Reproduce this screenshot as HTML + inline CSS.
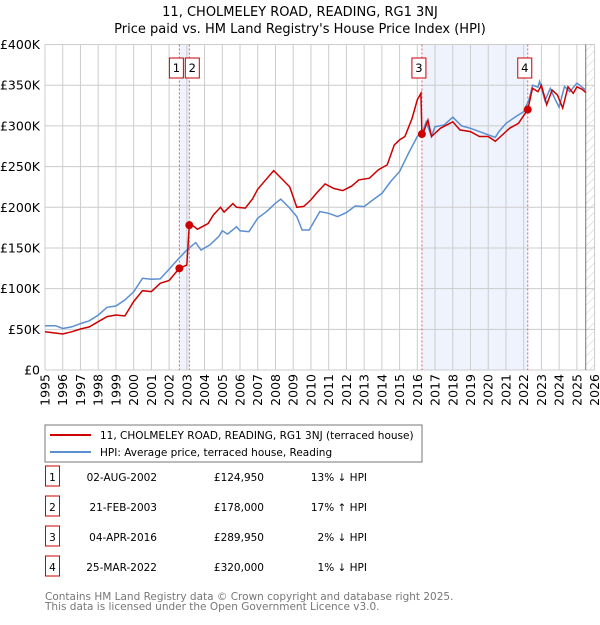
<!DOCTYPE html>
<html><head><meta charset="utf-8"><style>
body{margin:0;background:#fff;font-family:"Liberation Sans","DejaVu Sans",sans-serif;}
svg text{font-family:"DejaVu Sans","Liberation Sans",sans-serif;}
</style></head><body>
<svg id="c" width="600" height="620" xmlns="http://www.w3.org/2000/svg">
<defs><pattern id="h" width="6" height="6" patternUnits="userSpaceOnUse" patternTransform="rotate(45)"><line x1="0" y1="0" x2="0" y2="6" stroke="#ccc" stroke-width="1"/></pattern></defs>
<text x="300" y="16" text-anchor="middle" font-size="13">11, CHOLMELEY ROAD, READING, RG1 3NJ</text>
<text x="300" y="33" text-anchor="middle" font-size="13">Price paid vs. HM Land Registry's House Price Index (HPI)</text>
<g id="plot"></g>
<rect x="45" y="425" width="377" height="37" fill="#fff" stroke="#777"/>
<line x1="50" y1="435" x2="91" y2="435" stroke="#cc0000" stroke-width="2"/>
<text x="100" y="439" font-size="10.5">11, CHOLMELEY ROAD, READING, RG1 3NJ (terraced house)</text>
<line x1="50" y1="452" x2="91" y2="452" stroke="#5b8fd0" stroke-width="2"/>
<text x="100" y="456" font-size="10.5">HPI: Average price, terraced house, Reading</text>
<g id="table" font-size="10.5"></g>
<text x="45" y="600" font-size="10.5" fill="#777">Contains HM Land Registry data © Crown copyright and database right 2025.</text>
<text x="45" y="610" font-size="10.5" fill="#777">This data is licensed under the Open Government Licence v3.0.</text>
</svg>
<script>
const hpiYears=[1995,1995.6,1996,1996.5,1997,1997.5,1998,1998.5,1999,1999.5,2000,2000.5,2001,2001.5,2002,2002.5,2003,2003.5,2003.8,2004.3,2004.8,2005,2005.3,2005.8,2006,2006.5,2007,2007.5,2008,2008.3,2008.8,2009.2,2009.5,2009.9,2010.5,2011,2011.5,2012,2012.5,2013,2013.5,2014,2014.5,2015,2015.5,2016,2016.3,2016.5,2016.8,2017,2017.5,2018,2018.5,2019,2019.5,2020,2020.4,2020.6,2021,2021.5,2022,2022.3,2022.5,2022.8,2022.9,2023.2,2023.5,2023.7,2024,2024.3,2024.6,2025,2025.3,2025.5];
const hpiValues=[54.5,54.5,51,53,57,60.5,67.5,77,78.7,86,96,112.7,111.5,112,123.8,136,147.5,156.5,147.5,153.7,164,171,167,176,171,170,186.5,194.7,205,210,199,188.5,172,172,194.7,192.6,188.5,193.4,201.6,200.8,209,217,231.6,243.9,266,287,293,305,287,299,301,310.7,300,297,293,289,286,293,303,310.7,317.6,332,350,347.5,354.5,331,346,336,323,348.4,342,352.5,347.5,344];
const priceYears=[1995,1996,1996.5,1997,1997.5,1998,1998.5,1999,1999.5,2000,2000.5,2001,2001.5,2002,2002.58,2003,2003.14,2003.3,2003.6,2004.2,2004.5,2004.9,2005.1,2005.6,2005.8,2006.3,2006.7,2007,2007.5,2007.9,2008.4,2008.8,2009.2,2009.6,2010,2010.3,2010.8,2011.3,2011.8,2012.3,2012.7,2013.3,2013.8,2014.3,2014.7,2015,2015.3,2015.7,2016,2016.2,2016.26,2016.4,2016.6,2016.8,2017.3,2018,2018.4,2019,2019.5,2020,2020.4,2020.7,2021.2,2021.7,2022.23,2022.5,2022.8,2023,2023.3,2023.6,2023.9,2024.2,2024.5,2024.8,2025,2025.3,2025.5];
const priceValues=[47,44.3,47,50.4,53,59.4,65.6,67.6,66.4,84,97.5,96.3,106.6,110,124.95,129,178,178,173,180,190.5,200,194,204.5,200,199,210,222,235,245,234,225,200,201,209,217,228.7,223,220.5,226,233.6,235.7,246,252,276.6,282.8,287,309,332,340,289.95,295,307,287,297,305,295,293,287,287,281,287,297,303,320,346.3,342,350,326,344,338,322,348,340,348,345,341];
const saleLabels=["1","2","3","4"];
const saleYears=[2002.58,2003.14,2016.26,2022.23];
const saleValues=[124.95,178,289.95,320];
const saleDates=["02-AUG-2002","21-FEB-2003","04-APR-2016","25-MAR-2022"];
const salePrices=["£124,950","£178,000","£289,950","£320,000"];
const saleHpi=["13% ↓ HPI","17% ↑ HPI","2% ↓ HPI","1% ↓ HPI"];
const yTicks=[0,50,100,150,200,250,300,350,400];
const yTickLabels=["£0","£50K","£100K","£150K","£200K","£250K","£300K","£350K","£400K"];
const xTicks=[];for(let y=1995;y<=2026;y++)xTicks.push(y);
const dataEnd=2025.5;

const NS="http://www.w3.org/2000/svg";
const X0=45,X1=594.6,Y0=370,Y1=44.5;
const xs=y=>X0+(y-1995)/31*(X1-X0);
const ys=v=>Y0-v/400*(Y0-Y1);
const plot=document.getElementById('plot');
function mk(t,a,p){const e=document.createElementNS(NS,t);for(const k in a)e.setAttribute(k,a[k]);(p||plot).appendChild(e);return e;}
for(let i=0;i<4;i+=2){
 const r=mk('rect',{x:xs(saleYears[i]),y:Y1,width:xs(saleYears[i+1])-xs(saleYears[i]),height:Y0-Y1,fill:'#eef3fd'});
 
 
}
const hz=mk('rect',{x:xs(dataEnd),y:Y1,width:X1-xs(dataEnd),height:Y0-Y1,fill:'url(#h)'});


yTicks.forEach((v,i)=>{
 const l=mk('line',{x1:X0,x2:X1,y1:ys(v),y2:ys(v),stroke:'#cccccc'});
 
 
 const t=mk('text',{x:40,y:ys(v)+4.5,'text-anchor':'end','font-size':'12.5'});
 t.textContent=yTickLabels[i];
 
 
});
xTicks.forEach(y=>{
 const l=mk('line',{x1:xs(y),x2:xs(y),y1:Y1,y2:Y0,stroke:'#cccccc'});
 
 
 const t=mk('text',{x:0,y:0,'font-size':'12.5','text-anchor':'end',transform:`translate(${xs(y)+4.5},374) rotate(-90)`});
 t.textContent=y;
 
 
});
const el=mk('line',{x1:xs(dataEnd),x2:xs(dataEnd),y1:Y1,y2:Y0,stroke:'#777'});


saleYears.forEach(y=>{
 const l=mk('line',{x1:xs(y),x2:xs(y),y1:Y1,y2:Y0,stroke:'#e55','stroke-dasharray':'2,2','stroke-width':1});
 
 
});
const path=(xa,va)=>xa.map((y,i)=>(i?'L':'M')+xs(y).toFixed(1)+','+ys(va[i]).toFixed(1)).join('');
const hp=mk('path',{d:path(hpiYears,hpiValues),fill:'none',stroke:'#5b8fd0','stroke-width':1.5});


const pp=mk('path',{d:path(priceYears,priceValues),fill:'none',stroke:'#cc0000','stroke-width':1.5});


saleYears.forEach((y,i)=>{
 const c=mk('circle',{cx:xs(y),cy:ys(saleValues[i]),r:4,fill:'#cc0000'});
 
 
 const bx=(i==0?xs(y)-10:i==1?xs(y)-4:xs(y)-10);
 const r=mk('rect',{x:bx,y:58,width:14,height:20,fill:'#fff',stroke:'#cc0000'});
 
 
 const t=mk('text',{x:bx+7,y:72,'text-anchor':'middle','font-size':'11.5'});
 t.textContent=saleLabels[i];
 
 
});
const tb=document.getElementById('table');
saleLabels.forEach((s,i)=>{
 const yy=483+i*30;
 const r=mk('rect',{x:45.5,y:yy-17,width:14,height:20,fill:'#fff',stroke:'#cc0000'},tb);
 
 
 const a=mk('text',{x:52.5,y:yy-2,'text-anchor':'middle'},tb);a.textContent=s;
 
 
 const d=mk('text',{x:157,y:yy-2,'text-anchor':'end'},tb);d.textContent=saleDates[i];
 
 
 const p=mk('text',{x:264,y:yy-2,'text-anchor':'end'},tb);p.textContent=salePrices[i];
 
 
 const h=mk('text',{x:367,y:yy-2,'text-anchor':'end'},tb);h.textContent=saleHpi[i];
 
 
});
</script>
</body></html>
